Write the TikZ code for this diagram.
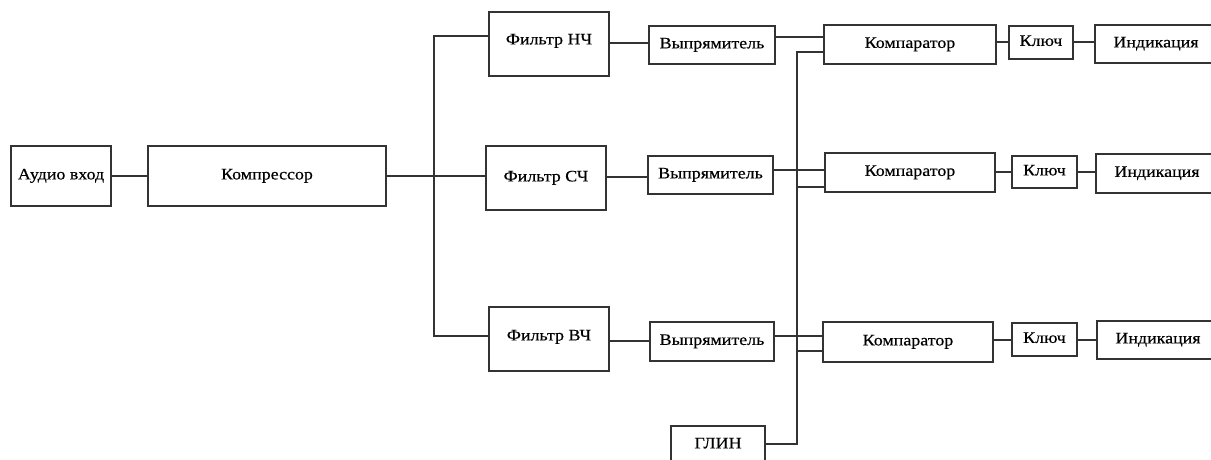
\documentclass[tikz,border=0pt]{standalone}
\usepackage{fontspec}
\setmainfont{Liberation Serif}[FakeStretch=1.12,FakeBold=0.4]
\begin{document}
\begin{tikzpicture}[x=1pt,y=-1pt,
  blk/.style={draw=black!80,line width=1.3pt,fill=white,inner sep=0pt,text height=0.68em,text depth=0pt,font=\fontsize{16}{18}\selectfont},
  wire/.style={draw=black!80,line width=1.3pt}]
\useasboundingbox (0,0) rectangle (1211,459);
% blocks
\node[blk,minimum width=100pt,minimum height=60pt] (audio) at (61,176) {Аудио вход};
\node[blk,minimum width=238pt,minimum height=60pt] (comp) at (267,176) {Компрессор};
\node[blk,minimum width=120pt,minimum height=64pt] (fnc) at (549,44) {\raisebox{3pt}{Фильтр НЧ}};
\node[blk,minimum width=120pt,minimum height=64pt] (fsc) at (546,178) {Фильтр СЧ};
\node[blk,minimum width=120pt,minimum height=64pt] (fvc) at (549,339) {\raisebox{2pt}{Фильтр ВЧ}};
\node[blk,minimum width=126pt,minimum height=38pt] (v1) at (712,45) {Выпрямитель};
\node[blk,minimum width=125pt,minimum height=38pt] (v2) at (710.5,175) {Выпрямитель};
\node[blk,minimum width=124pt,minimum height=39pt] (v3) at (712,341.5) {Выпрямитель};
\node[blk,minimum width=172pt,minimum height=39pt] (k1) at (910,44.5) {Компаратор};
\node[blk,minimum width=170pt,minimum height=39pt] (k2) at (910,172.5) {Компаратор};
\node[blk,minimum width=170pt,minimum height=40pt] (k3) at (908,342) {Компаратор};
\node[blk,minimum width=64pt,minimum height=33pt] (s1) at (1041,42.5) {Ключ};
\node[blk,minimum width=65pt,minimum height=32pt] (s2) at (1044.5,172) {Ключ};
\node[blk,minimum width=65pt,minimum height=33pt] (s3) at (1044.5,339.5) {Ключ};
\node[blk,minimum width=122pt,minimum height=38pt] (i1) at (1156,44) {Индикация};
\node[blk,minimum width=122pt,minimum height=39pt] (i2) at (1157,173.5) {Индикация};
\node[blk,minimum width=122pt,minimum height=38pt] (i3) at (1158,340) {Индикация};
\node[blk,minimum width=94pt,minimum height=38pt] (glin) at (718,445) {ГЛИН};
% connectors
\draw[wire] (audio.east) -- (comp.west);
\coordinate (bt) at (434,36);
\coordinate (bm) at (434,176);
\coordinate (bb) at (434,336);
\draw[wire] (comp.east) -- (bm) -- (fsc.west |- bm);
\draw[wire] (fnc.west |- bt) -- (bt) -- (bb) -- (fvc.west |- bb);
\draw[wire] (fnc.east |- 0,43) -- (v1.west |- 0,43);
\draw[wire] (fsc.east |- 0,177) -- (v2.west |- 0,177);
\draw[wire] (fvc.east |- 0,341) -- (v3.west |- 0,341);
\draw[wire] (v1.east |- 0,37) -- (k1.west |- 0,37);
\draw[wire] (v2.east |- 0,170) -- (k2.west |- 0,170);
\draw[wire] (v3.east |- 0,336) -- (k3.west |- 0,336);
\coordinate (g1) at (797,52);
\coordinate (g2) at (797,187);
\coordinate (g3) at (797,351);
\coordinate (gb) at (797,444);
\draw[wire] (k1.west |- g1) -- (g1) -- (gb) -- (glin.east |- gb);
\draw[wire] (g2) -- (k2.west |- g2);
\draw[wire] (g3) -- (k3.west |- g3);
\draw[wire] (k1.east |- 0,42) -- (s1.west |- 0,42);
\draw[wire] (s1.east |- 0,42) -- (i1.west |- 0,42);
\draw[wire] (k2.east |- 0,172) -- (s2.west |- 0,172);
\draw[wire] (s2.east |- 0,172) -- (i2.west |- 0,172);
\draw[wire] (k3.east |- 0,340) -- (s3.west |- 0,340);
\draw[wire] (s3.east |- 0,340) -- (i3.west |- 0,340);
\end{tikzpicture}
\end{document}
